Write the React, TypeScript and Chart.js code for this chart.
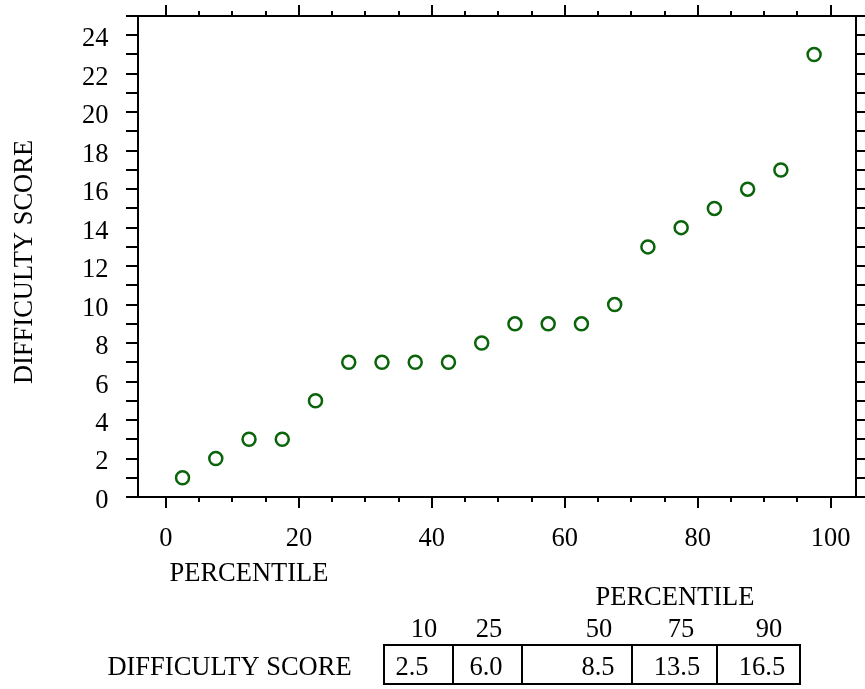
import React, { useEffect, useRef } from 'react';
import { Chart, registerables } from 'chart.js';

Chart.register(...registerables);

// ---- data ----
const percentiles = [2.5, 7.5, 12.5, 17.5, 22.5, 27.5, 32.5, 37.5, 42.5, 47.5, 52.5, 57.5, 62.5, 67.5, 72.5, 77.5, 82.5, 87.5, 92.5, 97.5];
const difficultyScores = [1, 2, 3, 3, 5, 7, 7, 7, 7, 8, 9, 9, 9, 10, 13, 14, 15, 16, 17, 23];

const xTickValues = [0, 5, 10, 15, 20, 25, 30, 35, 40, 45, 50, 55, 60, 65, 70, 75, 80, 85, 90, 95, 100];
const xLabelValues = [0, 20, 40, 60, 80, 100];
const yTickValues = [0, 1, 2, 3, 4, 5, 6, 7, 8, 9, 10, 11, 12, 13, 14, 15, 16, 17, 18, 19, 20, 21, 22, 23, 24, 25];
const yLabelValues = [0, 2, 4, 6, 8, 10, 12, 14, 16, 18, 20, 22, 24];

const xTitle = 'PERCENTILE';
const yTitle = 'DIFFICULTY SCORE';
const tableTitle = 'PERCENTILE';
const tablePercentiles = ['10', '25', '50', '75', '90'];
const tableScores = ['2.5', '6.0', '8.5', '13.5', '16.5'];
const tableRowLabel = 'DIFFICULTY SCORE';

// ---- layout / style ----
const W = 865;
const H = 689;
const FAMILY = '"Liberation Serif", "Times New Roman", serif';
const FS = 26.5;
const POINT_COLOR = '#0a640a';

const tableCols = [384, 453, 522, 632, 717, 800];
const tableTop = 645;
const tableBottom = 684;
const headerX = [424, 489, 599, 681, 769];
const valueX = [412, 486, 598, 677, 762];

const zeroPadding = (s: any) => {
  s.paddingTop = 0;
  s.paddingBottom = 0;
  s.paddingLeft = 0;
  s.paddingRight = 0;
};

const decorPlugin = {
  id: 'decor',
  afterDraw(chart: any) {
    const ctx = chart.ctx as CanvasRenderingContext2D;
    const { x, y } = chart.scales;
    const area = chart.chartArea;
    ctx.save();
    ctx.strokeStyle = '#000';
    ctx.lineWidth = 2;
    ctx.lineCap = 'butt';
    // frame
    ctx.strokeRect(area.left, area.top, area.right - area.left, area.bottom - area.top);
    ctx.beginPath();
    for (const v of yTickValues) {
      const py = Math.round(y.getPixelForValue(v));
      ctx.moveTo(area.left - 12, py);
      ctx.lineTo(area.left, py);
      ctx.moveTo(area.right, py);
      ctx.lineTo(area.right + 12, py);
    }
    for (const v of xTickValues) {
      const px = Math.round(x.getPixelForValue(v));
      const len = xLabelValues.includes(v) ? 11 : 5;
      ctx.moveTo(px, area.bottom);
      ctx.lineTo(px, area.bottom + len);
      ctx.moveTo(px, area.top);
      ctx.lineTo(px, area.top - len);
    }
    ctx.stroke();

    ctx.fillStyle = '#000';
    ctx.font = `${FS}px ${FAMILY}`;
    ctx.textAlign = 'center';
    ctx.textBaseline = 'middle';
    // x title
    ctx.fillText(xTitle, 249, 574);
    // y title
    ctx.save();
    ctx.translate(25, 262);
    ctx.rotate(-Math.PI / 2);
    ctx.fillText(yTitle, 0, 0);
    ctx.restore();

    // summary table
    ctx.fillText(tableTitle, 675, 598);
    tablePercentiles.forEach((p, i) => ctx.fillText(p, headerX[i], 630));
    tableScores.forEach((s, i) => ctx.fillText(s, valueX[i], 668.5));
    ctx.fillText(tableRowLabel, 229.5, 668.5);
    ctx.beginPath();
    ctx.rect(tableCols[0], tableTop, tableCols[tableCols.length - 1] - tableCols[0], tableBottom - tableTop);
    for (let i = 1; i < tableCols.length - 1; i++) {
      ctx.moveTo(tableCols[i], tableTop);
      ctx.lineTo(tableCols[i], tableBottom);
    }
    ctx.stroke();
    ctx.restore();
  },
};

export default function App() {
  const ref = useRef<HTMLCanvasElement | null>(null);

  useEffect(() => {
    if (!ref.current) return;
    const font = { family: FAMILY, size: FS };
    const chart = new Chart(ref.current, {
      type: 'scatter',
      data: {
        datasets: [
          {
            data: percentiles.map((p, i) => ({ x: p, y: difficultyScores[i] })),
            pointStyle: 'circle',
            pointRadius: 6.5,
            pointHoverRadius: 6.5,
            borderWidth: 2.5,
            borderColor: POINT_COLOR,
            backgroundColor: 'rgba(0,0,0,0)',
            showLine: false,
          },
        ],
      },
      options: {
        responsive: false,
        animation: false,
        devicePixelRatio: 1,
        events: [],
        layout: { padding: 0 },
        plugins: { legend: { display: false }, tooltip: { enabled: false } },
        scales: {
          x: {
            type: 'linear',
            position: 'bottom',
            min: -4.2,
            max: 103.8,
            afterBuildTicks: (s: any) => { s.ticks = xTickValues.map((v) => ({ value: v })); },
            afterFit: (s: any) => { s.height = 192; zeroPadding(s); },
            grid: { display: false, drawTicks: false },
            border: { display: false },
            ticks: {
              autoSkip: false,
              maxRotation: 0,
              minRotation: 0,
              padding: 26,
              color: '#000',
              font,
              callback: (v: any) => (xLabelValues.includes(Number(v)) ? String(v) : ''),
            },
          },
          x2: {
            type: 'linear',
            position: 'top',
            min: -4.2,
            max: 103.8,
            afterFit: (s: any) => { s.height = 16; zeroPadding(s); },
            grid: { display: false, drawTicks: false },
            border: { display: false },
            ticks: { display: false },
          },
          y: {
            type: 'linear',
            position: 'left',
            min: 0,
            max: 25,
            afterBuildTicks: (s: any) => { s.ticks = yTickValues.map((v) => ({ value: v })); },
            afterFit: (s: any) => { s.width = 138; zeroPadding(s); },
            grid: { display: false, drawTicks: false },
            border: { display: false },
            ticks: {
              autoSkip: false,
              padding: 29.5,
              labelOffset: 4,
              color: '#000',
              font,
              callback: (v: any) => (yLabelValues.includes(Number(v)) ? String(v) : ''),
            },
          },
          y2: {
            type: 'linear',
            position: 'right',
            min: 0,
            max: 25,
            afterFit: (s: any) => { s.width = 7; zeroPadding(s); },
            grid: { display: false, drawTicks: false },
            border: { display: false },
            ticks: { display: false },
          },
        },
      } as any,
      plugins: [decorPlugin],
    });
    return () => chart.destroy();
  }, []);

  return (
    <div style={{ position: 'absolute', left: 0, top: 0, width: W, height: H, background: '#fff' }}>
      <canvas ref={ref} width={W} height={H} style={{ width: W, height: H, display: 'block' }} />
    </div>
  );
}
